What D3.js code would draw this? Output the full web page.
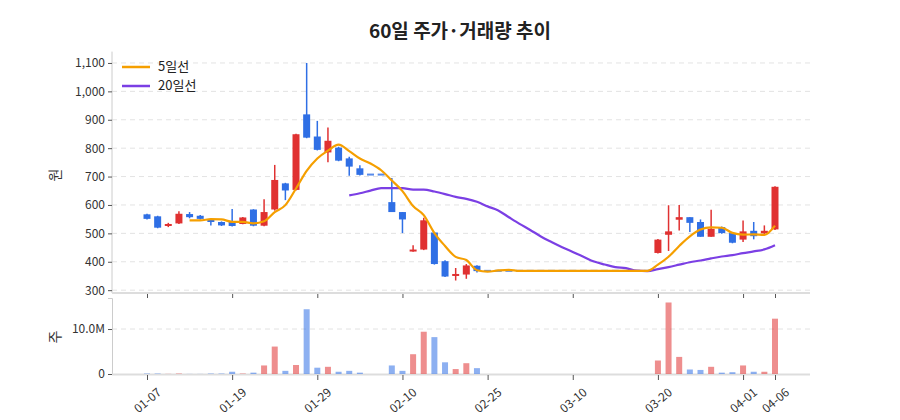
<!DOCTYPE html>
<html><head><meta charset="utf-8">
<script src="https://cdn.jsdelivr.net/npm/d3@7"></script>
<style>body{margin:0;background:#fff;font-family:"Noto Sans CJK KR","Noto Sans",sans-serif;}</style>
</head><body><svg id="c" width="900" height="420"></svg>
<script>
const dates=["01-07","01-08","01-09","01-12","01-13","01-14","01-15","01-16","01-19","01-20","01-21","01-22","01-23","01-26","01-27","01-28","01-29","01-30","02-02","02-03","02-04","02-05","02-06","02-09","02-10","02-11","02-12","02-13","02-19","02-20","02-23","02-24","02-25","02-26","02-27","03-03","03-04","03-05","03-06","03-09","03-10","03-11","03-12","03-13","03-16","03-17","03-18","03-19","03-20","03-23","03-24","03-25","03-26","03-27","03-30","03-31","04-01","04-02","04-03","04-06"];
const tickLabels=["01-07","01-19","01-29","02-10","02-25","03-10","03-20","04-01","04-06"];
const open =[567,560,527,535,568,562,548,540,540,533,584,527,584,676,653,919,841,785,802,764,729,707,707,610,575,440,443,503,402,350,355,386,368,368,368,368,368,368,368,368,368,368,368,368,368,368,368,368,431,495,548,557,540,488,522,501,478,509,500,514];
const close=[551,520,533,569,557,551,540,528,526,556,527,575,688,651,849,837,794,826,756,735,706,707,707,575,549,443,546,392,348,357,387,367,368,368,368,368,368,368,368,368,368,368,368,368,368,368,368,368,478,507,557,537,488,516,501,467,507,490,509,664];
const high =[569,562,537,578,575,565,552,542,586,558,585,620,741,678,851,1100,896,873,805,770,740,707,707,695,575,458,555,505,405,378,392,388,368,368,368,368,368,368,368,368,368,368,368,368,368,368,368,368,480,599,600,557,549,583,524,503,545,540,528,666];
const low  =[549,518,522,533,553,549,528,526,524,532,525,525,580,617,651,835,792,750,754,703,704,707,707,575,501,435,441,390,346,334,340,362,368,368,368,368,368,368,368,368,368,368,368,368,368,368,368,368,429,438,510,505,488,488,499,465,470,479,493,512];
const volume=[0.1,0.1,0.03,0.1,0.02,0.02,0.1,0.1,0.5,0.1,0.3,1.9,6.1,0.7,2.0,14.4,1.4,1.6,0.5,0.7,0.3,0,0,1.9,0.7,4.4,9.4,8.2,2.6,1.1,2.4,1.3,0,0,0,0,0,0,0,0,0,0,0,0,0,0,0,0,3.0,15.9,3.8,1.0,0.9,1.6,0.3,0.4,1.9,0.5,0.5,12.3];
const yTicks=[300,400,500,600,700,800,900,1000,1100];

const svg=d3.select("#c");
const RED="#e03131",BLUE="#2f6fe5";
const x=d3.scalePoint().domain(dates).range([147,775]);
const y=d3.scaleLinear().domain([290,1140]).range([293,51.6]);
const yv=d3.scaleLinear().domain([0,16.9]).range([374,298]);
const L=112,R=810;

svg.append("text").attr("x",460).attr("y",38).attr("text-anchor","middle").attr("font-size",19).attr("font-weight","bold").attr("fill","#222").text("60일 주가·거래량 추이");

// grids
svg.append("g").selectAll("line").data(yTicks).join("line").attr("x1",L).attr("x2",R).attr("y1",d=>y(d)).attr("y2",d=>y(d)).attr("stroke","#e3e3e3").attr("stroke-dasharray","5,4");
svg.append("line").attr("x1",L).attr("x2",R).attr("y1",yv(10)).attr("y2",yv(10)).attr("stroke","#e3e3e3").attr("stroke-dasharray","5,4");

// y axes
const ay=svg.append("g").attr("transform",`translate(${L},0)`).call(d3.axisLeft(y).tickValues(yTicks).tickFormat(d3.format(",")).tickSize(4));
const av=svg.append("g").attr("transform",`translate(${L},0)`).call(d3.axisLeft(yv).tickValues([0,10]).tickFormat(d=>d===0?"0":d.toFixed(1)+"M").tickSize(4));
[ay,av].forEach(a=>{a.select(".domain").attr("stroke","#ccc");a.selectAll(".tick line").attr("stroke","#555");a.selectAll("text").attr("font-size",12).attr("fill","#333").attr("font-family","Noto Sans CJK KR");});
ay.select(".domain").attr("d",`M-0,${y(1140)}V${y(290)}`);
svg.append("text").attr("transform","translate(60,175) rotate(-90)").attr("text-anchor","middle").attr("font-size",14).attr("fill","#333").text("원");
svg.append("text").attr("transform","translate(60,337) rotate(-90)").attr("text-anchor","middle").attr("font-size",14).attr("fill","#333").text("주");

// x axes
const tickIdx=tickLabels.map(t=>dates.indexOf(t));
svg.append("line").attr("x1",L).attr("x2",R).attr("y1",293).attr("y2",293).attr("stroke","#ddd").attr("stroke-width",2);
svg.append("line").attr("x1",L).attr("x2",R).attr("y1",374.5).attr("y2",374.5).attr("stroke","#ddd").attr("stroke-width",2);
const ax=svg.append("g").attr("transform","translate(0,294)").call(d3.axisBottom(x).tickValues(tickLabels).tickSize(4).tickFormat(""));
const ax2=svg.append("g").attr("transform","translate(0,375)").call(d3.axisBottom(x).tickValues(tickLabels).tickSize(5));
[ax,ax2].forEach(a=>{a.select(".domain").remove();a.selectAll(".tick line").attr("stroke","#555");});
ax2.selectAll("text").attr("font-size",12).attr("fill","#333").attr("text-anchor","end").attr("transform","translate(4,6) rotate(-40)").attr("font-family","Noto Sans CJK KR");

// candles
const data=dates.map((d,i)=>({d,o:open[i],c:close[i],h:high[i],l:low[i],v:volume[i]}));
const g=svg.append("g");
data.forEach(p=>{
  const col=p.c>=p.o&&!(p.c===p.o&&p.h===p.l&&p.v===0)?RED:BLUE;
  const cx=x(p.d);
  if(p.h===p.l&&p.o===p.c){
    g.append("line").attr("x1",cx-3.5).attr("x2",cx+3.5).attr("y1",y(p.c)).attr("y2",y(p.c)).attr("stroke",BLUE).attr("stroke-width",2).attr("opacity",0.8);
    return;
  }
  g.append("line").attr("x1",cx).attr("x2",cx).attr("y1",y(p.h)).attr("y2",y(p.l)).attr("stroke",col).attr("stroke-width",1.5);
  const t=y(Math.max(p.o,p.c)),b=y(Math.min(p.o,p.c));
  g.append("rect").attr("x",cx-3.5).attr("width",7).attr("y",t).attr("height",Math.max(2,b-t)).attr("fill",col);
});

// MAs
function ma(n){return close.map((c,i)=>i<n-1?null:d3.mean(close.slice(i-n+1,i+1)));}
const ln=d3.line().defined(d=>d[1]!=null).x(d=>x(d[0])).y(d=>y(d[1])).curve(d3.curveMonotoneX);
svg.append("path").attr("d",ln(dates.map((d,i)=>[d,ma(20)[i]]))).attr("fill","none").attr("stroke","#7b3fe4").attr("stroke-width",2.2);
svg.append("path").attr("d",ln(dates.map((d,i)=>[d,ma(5)[i]]))).attr("fill","none").attr("stroke","#f59f00").attr("stroke-width",2.2);

// volume
svg.append("g").selectAll("rect").data(data).join("rect")
 .attr("x",d=>x(d.d)-3).attr("width",6).attr("y",d=>yv(d.v)).attr("height",d=>yv(0)-yv(d.v))
 .attr("fill",d=>d.c>=d.o&&!(d.o===d.c)?RED:(d.c>d.o?RED:(d.c===d.o?RED:BLUE))).attr("opacity",0.55);

// legend
const lg=svg.append("g");
[["5일선","#f59f00"],["20일선","#7b3fe4"]].forEach((e,i)=>{
  lg.append("line").attr("x1",122).attr("x2",150).attr("y1",67+i*19).attr("y2",67+i*19).attr("stroke",e[1]).attr("stroke-width",2.5);
  lg.append("text").attr("x",158).attr("y",71+i*19).attr("font-size",13).attr("fill","#222").text(e[0]);
});
</script></body></html>
